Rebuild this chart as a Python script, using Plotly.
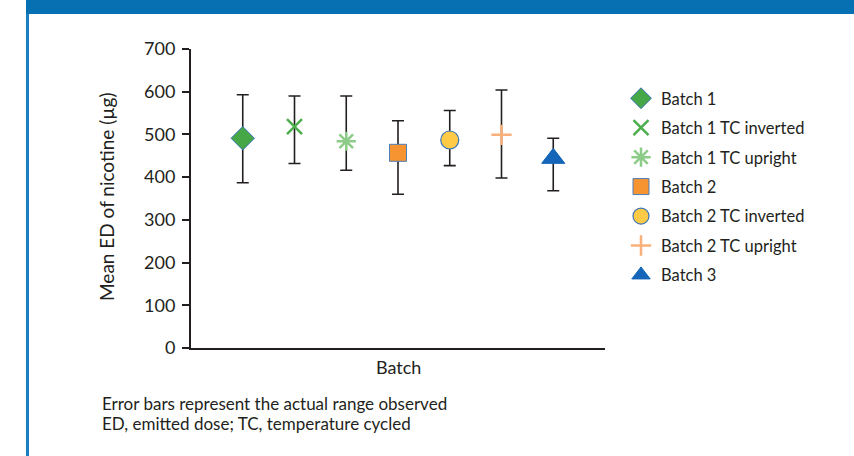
import plotly.graph_objects as go

# Mean emitted dose of nicotine per batch / storage condition, with observed range
series_names = ["Batch 1", "Batch 1 TC inverted", "Batch 1 TC upright", "Batch 2",
                "Batch 2 TC inverted", "Batch 2 TC upright", "Batch 3"]
mean_ed = [491, 518, 484, 457, 487, 499, 444]
range_high = [593, 590, 590, 532, 556, 604, 491]
range_low = [387, 432, 416, 360, 427, 398, 368]
x_positions = [1, 2, 3, 4, 5, 6, 7]

y_ticks = [0, 100, 200, 300, 400, 500, 600, 700]

marker_styles = [
    dict(symbol="diamond", size=18, color="#45a745", line=dict(color="#3a74b8", width=1)),
    dict(symbol="x-thin", size=15, color="#4cae4c", line=dict(color="#4cae4c", width=2.5)),
    dict(symbol="asterisk", size=16, color="#8ccc88", line=dict(color="#8ccc88", width=2.5)),
    dict(symbol="square", size=17, color="#f79432", line=dict(color="#4a7ebb", width=1)),
    dict(symbol="circle", size=18, color="#ffcb47", line=dict(color="#3a74b8", width=1.2)),
    dict(symbol="cross-thin", size=14.5, color="#f9b07a", line=dict(color="#f9b07a", width=2.5)),
    dict(symbol="triangle-up", size=20, color="#1565b8", line=dict(color="#1565b8", width=1)),
]

TEXT = "#231f20"
FONT = "Lato"

# plot area in pixels
L, R, T, B = 191, 605, 49, 348
W, H = 854, 456


def px_x(p):
    return (p - L) / (R - L)


def px_y(p):
    return (B - p) / (B - T)


fig = go.Figure()
for i, name in enumerate(series_names):
    fig.add_trace(go.Scatter(
        x=[x_positions[i]], y=[mean_ed[i]], name=name, mode="markers",
        marker=marker_styles[i],
        error_y=dict(type="data", symmetric=False,
                     array=[range_high[i] - mean_ed[i]],
                     arrayminus=[mean_ed[i] - range_low[i]],
                     color="#231f20", thickness=1.6, width=6),
        legendgroup=name,
    ))

fig.update_layout(
    width=W, height=H,
    margin=dict(l=L, r=W - R, t=T, b=H - B, autoexpand=False),
    paper_bgcolor="white", plot_bgcolor="white",
    font=dict(family=FONT, size=17, color=TEXT),
    showlegend=True,
    legend=dict(x=px_x(621), y=px_y(81), xanchor="left", yanchor="top",
                font=dict(family=FONT, size=16.5, color=TEXT),
                tracegroupgap=5, bgcolor="rgba(0,0,0,0)"),
    xaxis=dict(range=[0, 8], showgrid=False, zeroline=False, showticklabels=False,
               ticks="", showline=True, linecolor="#231f20", linewidth=2,
               fixedrange=True),
    yaxis=dict(range=[0, 700], tickvals=y_ticks, showgrid=False, zeroline=False,
               showline=True, linecolor="#231f20", linewidth=2,
               ticks="outside", ticklen=7, tickwidth=2, tickcolor="#231f20",
               ticklabelstandoff=3, tickfont=dict(family=FONT, size=18, color=TEXT)),
    shapes=[
        dict(type="rect", xref="paper", yref="paper", x0=px_x(26), x1=px_x(W + 2),
             y0=px_y(14), y1=px_y(-2), fillcolor="#0670b2", line=dict(width=0), layer="above"),
        dict(type="rect", xref="paper", yref="paper", x0=px_x(26), x1=px_x(29),
             y0=px_y(W), y1=px_y(14), fillcolor="#1a7ec3", line=dict(width=0), layer="above"),
    ],
    annotations=[
        dict(text="Mean ED of nicotine (µg)", xref="paper", yref="paper",
             x=px_x(106), y=px_y(197), textangle=-90, showarrow=False,
             xanchor="center", yanchor="middle", font=dict(family=FONT, size=19, color=TEXT)),
        dict(text="Batch", xref="paper", yref="paper", x=px_x(398), y=px_y(367),
             showarrow=False, xanchor="center", yanchor="middle",
             font=dict(family=FONT, size=18, color=TEXT)),
        dict(text="Error bars represent the actual range observed", xref="paper", yref="paper",
             x=px_x(100), y=px_y(404), showarrow=False, xanchor="left", yanchor="middle",
             font=dict(family=FONT, size=17, color=TEXT)),
        dict(text="ED, emitted dose; TC, temperature cycled", xref="paper", yref="paper",
             x=px_x(100), y=px_y(423), showarrow=False, xanchor="left", yanchor="middle",
             font=dict(family=FONT, size=17, color=TEXT)),
    ],
)

fig.write_html("out.html")
